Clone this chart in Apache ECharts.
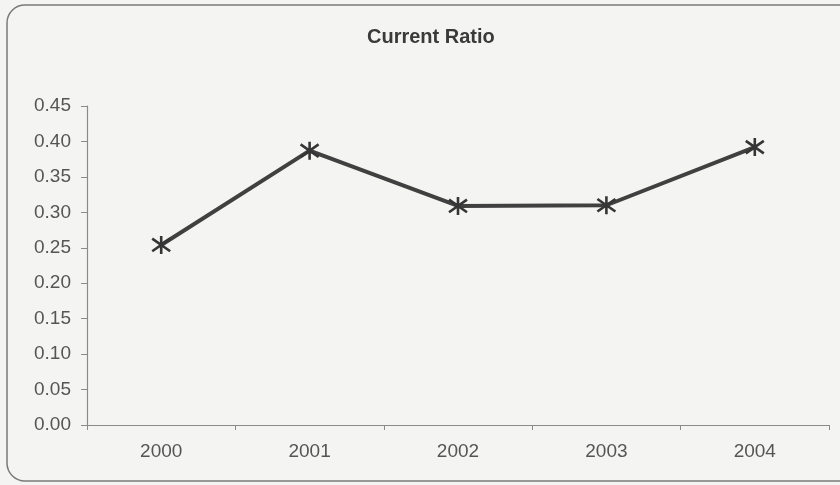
<!DOCTYPE html>
<html>
<head>
<meta charset="utf-8">
<script src="https://cdn.jsdelivr.net/npm/echarts@6/dist/echarts.min.js"></script>
<style>
html,body{margin:0;padding:0;background:#f4f4f3;}
#c{width:840px;height:485px;}
</style>
</head>
<body>
<div id="c"></div>
<script>
var categories = ['2000', '2001', '2002', '2003', '2004'];
var currentRatio = [0.254, 0.387, 0.309, 0.310, 0.392];
var yTicks = [0, 0.45, 0.05];
var titleText = 'Current Ratio';

var chart = echarts.init(document.getElementById('c'));
var star = 'path://M10,0 L10,20 M2,3 L18,17 M18,3 L2,17';
chart.setOption({
  backgroundColor: '#f4f4f3',
  animation: false,
  title: {
    text: titleText, left: 362, top: 22,
    textStyle: {fontFamily: 'Liberation Sans', fontSize: 20, fontWeight: 'bold', color: '#3a3a3a'}
  },
  graphic: [{
    type: 'rect', shape: {x: 7, y: 5, width: 860, height: 476, r: 18},
    style: {fill: 'none', stroke: '#7a7a7a', lineWidth: 1.5}, silent: true
  }],
  grid: {left: 87, right: 11, top: 106, bottom: 60, containLabel: false},
  xAxis: {
    type: 'category', data: categories, boundaryGap: true,
    axisLine: {lineStyle: {color: '#8a8a8a', width: 1.2}},
    axisTick: {show: true, length: 5, inside: false, lineStyle: {color: '#8a8a8a'}},
    axisLabel: {margin: 17, fontFamily: 'Liberation Sans', fontSize: 19, color: '#555'}
  },
  yAxis: {
    type: 'value', min: yTicks[0], max: yTicks[1], interval: yTicks[2],
    axisLine: {show: true, lineStyle: {color: '#8a8a8a', width: 1.2}},
    axisTick: {show: true, length: 6, lineStyle: {color: '#8a8a8a'}},
    splitLine: {show: false},
    axisLabel: {margin: 16, fontFamily: 'Liberation Sans', fontSize: 19, color: '#555',
      formatter: function (v) { return v.toFixed(2); }}
  },
  series: [{
    type: 'line', data: currentRatio,
    symbol: star, symbolSize: 18,
    lineStyle: {color: '#404040', width: 4},
    itemStyle: {color: 'none', borderColor: '#353535', borderWidth: 2.6}
  }]
});
</script>
</body>
</html>
